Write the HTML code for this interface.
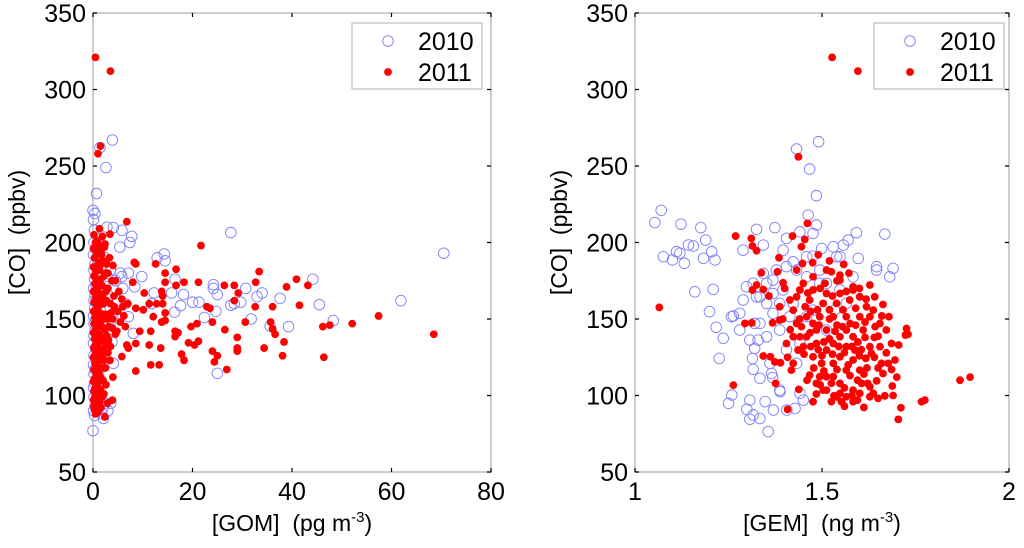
<!DOCTYPE html>
<html><head><meta charset="utf-8"><style>
html,body{margin:0;padding:0;background:#fff}
svg{display:block;font-family:"Liberation Sans",sans-serif}
</style></head><body>
<svg id="chart" width="1024" height="548" viewBox="0 0 1024 548"></svg>
<script>
// ---------- data ----------
const yTicks = [50,100,150,200,250,300,350];
const gomTicks = [0,20,40,60,80];
const gemTicks = [1,1.5,2];
const legendLabels = ["2010","2011"];

const gom2010 = [[27.7,206.5],[70.5,193],[61.9,162],[45.5,159.4],[44.2,176],[48.3,149],[39.3,145],[37.6,163.5],[34,167],[33,164.6],[30.7,170],[28.4,160],[29.7,161],[25,114.5],[24.2,172.4],[24.2,170],[25,166],[24.7,155],[22.4,151],[20,161],[21.3,161],[31.8,150],[35.6,145.4],[27.7,159],[14.3,192.5],[12.9,190],[14.5,188],[16.5,176],[18.2,166],[15.8,167],[17.6,158.7],[16.4,154.5],[12.3,167],[11.8,160],[9.8,177.7],[7.1,180],[5.8,177.7],[8.4,171],[7.1,151.5],[8.1,140.6],[4.1,121],[3.6,95],[2.1,85],[0,77],[5.8,208],[7.8,204],[7.4,200],[5.4,197],[4.1,209.7],[2.8,210],[3.9,267],[1.4,262],[2.6,249],[0.7,232],[0,221],[0.4,219],
[0.1,215],[0.3,208],[0.2,200],[0.5,196],[0.1,192],[0.8,190],[0.4,186],[0.2,182],[1.0,180],[0.3,176],[0.6,172],[0.1,170],[1.2,168],[0.4,165],[0.2,162],[0.9,160],[0.3,157],[1.5,155],[0.1,152],[0.6,150],[0.2,147],[1.1,145],[0.4,142],[0.2,139],[0.8,137],[0.1,134],[0.5,131],[1.3,129],[0.2,126],[0.7,123],[0.1,120],[0.4,117],[0.2,114],[0.9,111],[0.3,108],[0.1,105],[0.6,102],[0.2,99],[1.0,96],[0.4,93],[0.1,90],[0.3,87],[2.0,92],[1.8,88],[3.0,90],[2.5,95],[1.6,100],[2.2,174],[2.8,178],[1.9,185],[3.5,182],[2.4,190],[1.7,198],[3.2,165],[2.6,158],[4.5,175],[5,162],[6,170],[4,150],[3,140],[2,130],[1.5,118],[2.5,145],[3.8,135],[5.5,180],[6.5,160]];

const gom2011 = [[0.5,321],[3.5,312],[1,258],[1.5,263],[21.7,198],[33.4,181],[40.9,176],[43.2,172],[38.9,171],[32.7,174],[57.4,152],[68.5,140],[52.1,147],[47.6,146],[46.2,145],[46.4,125],[41.5,159],[36.1,158],[32.6,158],[29.2,167],[28.4,162],[26.4,172],[28.4,172],[21.2,174],[22.9,158],[23.5,157],[30.6,148],[35.7,148],[36.1,143.5],[36.6,140],[38.4,135],[34.4,131],[38.1,126],[29,138],[29,131],[29,129],[26.5,143],[24,148],[24,129],[25,126],[24.4,122],[26.9,117],[20.9,147],[19.7,145],[21.2,135.5],[20.4,133],[19.2,134.5],[17.8,127],[18.3,123],[16.5,142],[17.1,141],[16.5,138.5],[16.7,172],[16.7,182.5],[18.3,174],[14.5,180],[14.5,174],[12.6,186],[8.3,187],[8.6,186],[13.8,168],[14,165],[12.8,160],[14,160],[14.5,154],[14.5,149],[13.8,148],[11.6,142],[11.3,133],[13.6,131],[11.6,120],[13.3,120],[8.6,116],[6.8,213.6],[8,174],[10.3,167],[11.3,160],[12.1,151.5],[10.1,156],[8.6,157],[9.4,142],[8.6,134],[6.8,133],[7.1,131],[5.8,125.4],[4,112],[3.9,97],[2.4,86],[3.4,205.5],[2.4,199],[1.9,204],
[0.2,205],[0.5,200],[0.1,196],[0.8,193],[0.3,190],[1.2,187],[0.1,184],[0.6,181],[0.2,178],[1.5,176],[0.4,173],[0.9,171],[0.1,168],[2.0,166],[0.5,164],[0.2,161],[1.3,159],[0.7,157],[0.1,155],[2.5,153],[0.4,151],[1.0,149],[0.2,147],[1.8,145],[0.6,143],[0.1,141],[2.8,139],[0.3,137],[1.1,135],[0.5,133],[0.2,131],[1.6,129],[0.8,127],[0.1,125],[2.2,123],[0.4,121],[1.0,119],[0.2,117],[0.7,115],[1.4,113],[0.3,111],[0.1,109],[0.9,107],[0.5,105],[0.2,103],[1.2,101],[0.4,99],[0.1,97],[0.6,95],[0.2,93],[0.3,91],[1.0,89],[0.5,88],[3.0,170],[3.5,160],[4.0,150],[3.2,145],[4.5,140],[5.0,155],[3.8,175],[2.6,180],[1.7,192],[2.3,197],[4.2,165],[5.5,148],[6.0,158],[3.0,128],[2.5,118],[2.0,110],[1.5,104],[3.5,132],[4.8,142],[6.5,145],[7.0,160],[5.2,168],[2.9,95],[1.8,99],[0.9,201],[1.4,185],[2.1,150],[2.7,162],[0.3,125],[0.6,115],[0.8,160],[1.2,140],[1.9,130],[4.0,185],[3.3,190],
[1.1,198],[1.6,194],[2.0,188],[1.3,182],[2.2,178],[1.8,172],[1.0,168],[2.6,168],[1.4,164],[2.1,160],[1.0,155],[1.9,153],[2.9,150],[1.3,147],[2.4,143],[1.4,138],[2.0,136],[2.6,133],[1.2,131],[2.1,127],[1.4,124],[0.9,121],[1.8,118],[1.1,114],[1.7,110],[0.7,106],[1.3,96],[0.8,92],[1.6,92],[0.4,184],[0.7,176],[0.9,166],[0.6,152],[0.9,145],[0.6,139],[0.9,130],[0.5,127],[0.6,110],[0.9,100],[3.6,154],[4.3,158],[3.1,136],[3.9,144],[2.4,138],[3.4,123],[2.6,107],[2.2,101],[1.3,209],[4.5,175],[5.8,163],[6.2,152],[3.0,180],[2.7,186]];

const gem2010 = [[1.053,213],[1.07,221],[1.123,212],[1.176,209.7],[1.189,201.6],[1.076,190.7],[1.1,188.6],[1.132,186.4],[1.111,194],[1.12,193],[1.143,198.4],[1.156,197.7],[1.183,189.7],[1.205,194],[1.214,188.6],[1.16,167.8],[1.209,169.4],[1.199,154.8],[1.217,144.6],[1.236,137.4],[1.225,124.3],[1.263,152],[1.25,94.9],[1.259,100.3],[1.299,91],[1.307,97],[1.316,87.3],[1.334,85],[1.348,96],[1.356,76.4],[1.37,90.5],[1.388,102.5],[1.406,90.5],[1.428,91.6],[1.45,97],[1.307,84.5],
[1.316,117.1],[1.334,111.2],[1.365,114.4],[1.368,111.8],[1.314,124.2],[1.320,130.8],[1.329,136.2],[1.307,136.2],[1.258,151.5],[1.280,153.7],[1.289,162.4],[1.298,171.1],[1.325,164.5],[1.352,160.2],[1.369,166.7],[1.378,182],[1.405,184.2],[1.432,182],[1.459,190.7],[1.476,191.1],[1.499,196.1],[1.530,197.2],[1.548,190.7],[1.570,201.6],[1.592,206.4],[1.668,205.5],[1.597,189.6],[1.646,184.2],[1.690,183.1],[1.583,177.6],[1.494,182],[1.476,206],[1.463,217.9],[1.485,211.4],[1.441,207],[1.405,202.7],[1.374,209.7],[1.325,208.6],[1.289,195],[1.343,198.3],[1.396,195],[1.423,187.4],[1.343,179.8],[1.316,173.3],[1.369,153.7],[1.387,142.8],[1.352,138.4],[1.334,147.1],[1.405,129.7],[1.432,121],[1.441,134],
[1.491,265.9],[1.432,261.1],[1.467,248],[1.485,230.6],
[1.369,175.4],[1.387,160.2],[1.414,151.5],[1.459,151.5],[1.512,142.8],[1.548,169],[1.565,160.2],[1.512,173.3],[1.396,169],[1.352,173.3],[1.334,164.5],[1.280,142.8],[1.320,147.1],[1.361,121],[1.441,101.4],[1.387,103.5],[1.459,177.6],[1.423,160.2],[1.476,155.8],[1.534,155.8],[1.646,182],[1.681,177.6],[1.539,190.7],[1.557,198.3],[1.494,173.3]];

const gem2011 = [[1.527,321],[1.596,312],[1.437,256],[1.065,157.6],[1.263,106.8],[1.269,204.2],[1.869,110],[1.896,112],[1.775,97],
[1.311,202.7],[1.314,197.7],[1.325,194.6],[1.421,204.2],[1.454,202],[1.445,197.2],[1.461,212.5],[1.385,190],[1.381,180.9],[1.338,180.2],[1.325,172.2],[1.314,168.9],[1.343,169.3],[1.294,147.1],[1.312,147.5],[1.368,147.5],[1.387,158],[1.343,125.8],[1.362,125.3],[1.374,122],[1.389,121.4],[1.376,107.9],[1.408,90.9],[1.438,104],[1.476,95.9],[1.418,116.6],[1.448,186.3],[1.475,186.8],[1.525,180.9],[1.558,185.7],[1.548,178.7],[1.508,173.3],[1.450,173.3],[1.396,173.7],[1.628,172.2],[1.641,164.5],[1.663,159.5],[1.679,151.5],[1.726,143.8],[1.723,139.5],[1.672,142.8],[1.650,138.8],[1.686,134],[1.655,131.9],[1.628,131.9],[1.632,127.5],[1.672,127.9],[1.695,123.2],[1.659,121],[1.686,117],[1.663,114.4],[1.646,109.6],[1.628,105.7],[1.688,106.2],[1.668,99.8],[1.650,98.1],[1.628,99.2],[1.612,92.2],[1.583,95.9],[1.552,95.9],[1.532,99.8],[1.503,103.5],[1.485,107.9],[1.467,113.3],[1.512,112.3],[1.548,107.9],[1.583,103.5],[1.606,107.9],[1.565,116.6],[1.530,121],[1.499,121],[1.548,125.3],[1.583,123.2],[1.601,116.6],[1.617,124.3],[1.588,129.7],[1.512,129.7],[1.476,125.3],[1.436,129.7],[1.423,121],[1.459,138.4],[1.423,138.4],[1.432,147.1],[1.476,147.1],[1.512,142.8],[1.548,138.4],[1.583,138.4],[1.610,142.8],[1.628,151.5],[1.601,151.5],[1.565,151.5],[1.530,151.5],[1.494,151.5],[1.459,151.5],[1.423,155.8],[1.432,164.5],[1.467,162.4],[1.503,160.2],[1.539,160.2],[1.574,162.4],[1.601,164.5],[1.583,169],[1.548,166.7],[1.512,166.7],[1.476,169],[1.441,169],[1.414,162.4],[1.387,149.3],[1.405,134],[1.441,138.4],[1.485,134],[1.530,134],[1.565,131.9],[1.494,112.3],[1.530,112.3],[1.548,101.4],[1.565,99.2],[1.512,103.5],[1.565,142.8],[1.485,142.8],[1.450,131.9],[1.432,182],[1.476,177.6],[1.512,182],[1.548,175.4],[1.583,171.1],[1.637,155.8],[1.619,158],[1.655,147.1],[1.677,121],[1.711,92],[1.704,84.4],[1.766,95.9],[1.622,107.9],[1.601,101.4],[1.637,101.4],
[1.445,145],[1.468,141],[1.492,146],[1.520,137],[1.540,146],[1.575,147],[1.596,135],[1.615,148],[1.642,145],[1.455,158],[1.488,156],[1.520,156],[1.556,156],[1.590,157],[1.618,163],[1.452,127],[1.490,130],[1.528,127],[1.560,128],[1.600,126],[1.640,125],[1.505,116],[1.540,117],[1.575,113],[1.612,114],[1.478,118],[1.495,107],[1.525,108],[1.560,105],[1.595,110],[1.620,118],[1.525,96],[1.560,93],[1.595,97],[1.462,167],[1.495,170],[1.528,165],[1.565,168],[1.600,170],[1.615,138],[1.640,138],[1.660,152],[1.415,143],[1.408,125],[1.460,110],[1.540,175],[1.572,180],[1.520,188],[1.490,192],[1.470,155],[1.535,142],[1.580,132],[1.545,132],[1.505,135],[1.470,132],[1.440,150],[1.520,150],[1.555,145],[1.590,146],[1.500,126],[1.570,120],[1.605,130],[1.485,101],[1.540,99],[1.580,100],[1.650,118],[1.705,133],[1.700,112],[1.730,140],[1.690,100],[1.400,170],[1.358,165],[1.395,150]];

// ---------- drawing ----------
const NS = "http://www.w3.org/2000/svg";
const svg = document.getElementById('chart');
function mk(tag, attrs, parent){
  const e = document.createElementNS(NS, tag);
  for (const k in attrs) e.setAttribute(k, attrs[k]);
  (parent||svg).appendChild(e);
  return e;
}
const TOP = 13, BOT = 472;
function yScale(v){ return BOT - (v - 50) / 300 * (BOT - TOP); }

function panel(name, x0, x1, xmin, xmax, xt, xlabel, unitPrefix, d2010, d2011, legX){
  const xs = v => x0 + (v - xmin) / (xmax - xmin) * (x1 - x0);
  const g = mk('g', {});
  
  
  const frame = mk('rect', {x:x0, y:TOP, width:x1-x0, height:BOT-TOP, fill:'#fff', stroke:'#bdbdbd', 'stroke-width':1.5}, g);
  
  
  yTicks.forEach(t => {
    const y = yScale(t);
    const tk = mk('path', {d:`M${x0} ${y}h4M${x1} ${y}h-4`, stroke:'#000', 'stroke-width':1.2}, g);
    
    
    const lb = mk('text', {x:x0-7, y:y+9, 'text-anchor':'end', 'font-size':25, fill:'#000'}, g);
    lb.textContent = t;
    
    
  });
  xt.forEach(t => {
    const x = xs(t);
    const tk = mk('path', {d:`M${x} ${BOT}v-4M${x} ${TOP}v4`, stroke:'#000', 'stroke-width':1.2}, g);
    
    
    const lb = mk('text', {x:x, y:BOT+28, 'text-anchor':'middle', 'font-size':25, fill:'#000'}, g);
    lb.textContent = t;
    
    
  });
  const xtitle = mk('text', {x:(x0+x1)/2, y:531, 'text-anchor':'middle', 'font-size':23, fill:'#000'}, g);
  xtitle.innerHTML = xlabel + '\u00a0\u00a0(' + unitPrefix + ' m<tspan dy="-9" font-size="15">-3</tspan><tspan dy="9">)</tspan>';
  
  
  const yx = x0 - 68, yy = (TOP+BOT)/2 - 10;
  const ytitle = mk('text', {x:yx, y:yy, 'text-anchor':'middle', 'font-size':23, fill:'#000', transform:`rotate(-90 ${yx} ${yy})`}, g);
  ytitle.textContent = '[CO]\u00a0\u00a0(ppbv)';
  
  
  d2010.forEach(p => {
    const c = mk('circle', {cx:xs(p[0]), cy:yScale(p[1]), r:5.3, fill:'none', stroke:'#7f7fff', 'stroke-width':0.9}, g);
    
    
  });
  d2011.forEach(p => {
    const c = mk('circle', {cx:xs(p[0]), cy:yScale(p[1]), r:3.9, fill:'#ff0000'}, g);
    
    
  });
  const lg = mk('g', {}, g);
  
  
  mk('rect', {x:legX, y:23, width:130, height:66, fill:'#fff', stroke:'#bdbdbd', 'stroke-width':1.2}, lg);
  const e1 = mk('g', {}, lg);
  
  
  mk('circle', {cx:legX+36, cy:41, r:5.3, fill:'none', stroke:'#7f7fff', 'stroke-width':0.9}, e1);
  const t1 = mk('text', {x:legX+66, y:50, 'font-size':25, fill:'#000'}, e1);
  t1.textContent = legendLabels[0];
  const e2 = mk('g', {}, lg);
  
  
  mk('circle', {cx:legX+36, cy:72, r:3.9, fill:'#ff0000'}, e2);
  const t2 = mk('text', {x:legX+66, y:81, 'font-size':25, fill:'#000'}, e2);
  t2.textContent = legendLabels[1];
}

panel('gom', 93, 491, 0, 80, gomTicks, '[GOM]', 'pg', gom2010, gom2011, 352);
panel('gem', 635, 1009, 1, 2, gemTicks, '[GEM]', 'ng', gem2010, gem2011, 874);
</script>
</body></html>
